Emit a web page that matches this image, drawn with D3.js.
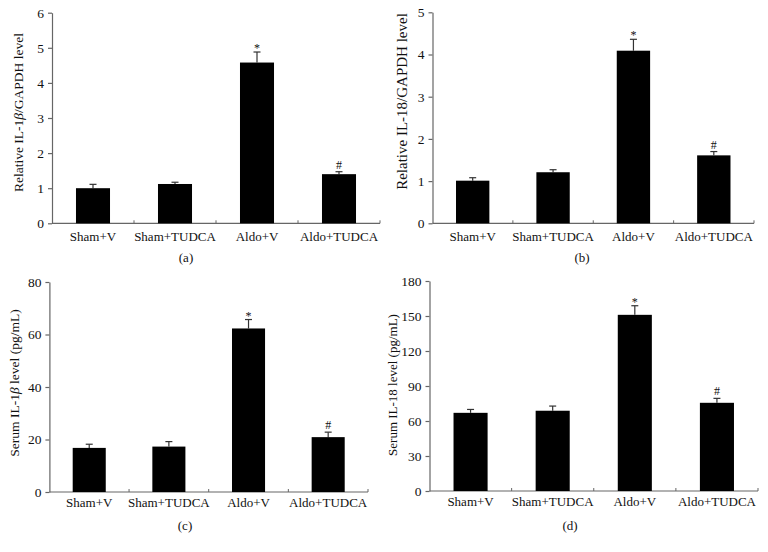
<!DOCTYPE html>
<html>
<head>
<meta charset="utf-8">
<script src="https://cdn.jsdelivr.net/npm/d3@7"></script>
<style>
  body { margin: 0; background: #fff; }
  svg text { font-family: "Liberation Serif", "DejaVu Serif", serif; fill: #111; }
</style>
</head>
<body>
<svg id="chart" width="768" height="552"></svg>
<script>
// groups shared by all four panels
var groups = ["Sham+V", "Sham+TUDCA", "Aldo+V", "Aldo+TUDCA"];

// (a) relative IL-1b / GAPDH
var valuesA = [1.0, 1.12, 4.58, 1.40];
var errA    = [0.11, 0.05, 0.30, 0.07];
var ticksA  = [0, 1, 2, 3, 4, 5, 6];

// (b) relative IL-18 / GAPDH
var valuesB = [1.01, 1.21, 4.09, 1.61];
var errB    = [0.07, 0.06, 0.27, 0.09];
var ticksB  = [0, 1, 2, 3, 4, 5];

// (c) serum IL-1b (pg/mL)
var valuesC = [16.8, 17.3, 62.3, 20.9];
var errC    = [1.4, 1.9, 3.4, 1.9];
var ticksC  = [0, 20, 40, 60, 80];

// (d) serum IL-18 (pg/mL)
var valuesD = [67, 68.8, 151, 75.6];
var errD    = [2.9, 4.0, 7.8, 3.8];
var ticksD  = [0, 30, 60, 90, 120, 150, 180];

// significance marks
var marks = ["", "", "*", "#"];

var svg = d3.select("#chart");

function panel(opt) {
  var g = svg.append("g");

  var x = d3.scaleBand().domain(groups).range([opt.x0, opt.x1]).padding(0);
  var y = d3.scaleLinear().domain([0, d3.max(opt.ticks)]).range([opt.y0, opt.y1]);
  var bw = x.bandwidth() * 0.415;

  // y axis
  var ya = g.append("g")
      .attr("transform", "translate(" + opt.x0 + ",0)")
      .call(d3.axisLeft(y).tickValues(opt.ticks).tickFormat(d3.format("d"))
        .tickSize(4).tickPadding(4).tickSizeOuter(0));
  ya.selectAll("path, line").attr("stroke", "#666").attr("stroke-width", 1.2);
  ya.selectAll("text").style("font-size", "13.5px").attr("fill", "#111")
      .style("font-family", '"Liberation Serif", serif');

  // x axis line with small upward ticks at band boundaries
  g.append("line")
      .attr("x1", opt.x0).attr("x2", opt.x1)
      .attr("y1", opt.y0).attr("y2", opt.y0)
      .attr("stroke", "#666").attr("stroke-width", 1.2);
  g.selectAll(".xt")
      .data(groups.slice(1).concat(["end"]))
      .enter().append("line")
      .attr("class", "xt")
      .attr("x1", function(d, i) { return opt.x0 + (i + 1) * x.step(); })
      .attr("x2", function(d, i) { return opt.x0 + (i + 1) * x.step(); })
      .attr("y1", opt.y0).attr("y2", opt.y0 - 3)
      .attr("stroke", "#666").attr("stroke-width", 1);

  g.selectAll(".xl")
      .data(groups)
      .enter().append("text")
      .attr("class", "xl")
      .attr("x", function(d) { return x(d) + x.bandwidth() / 2; })
      .attr("y", opt.y0 + opt.labGap)
      .attr("text-anchor", "middle")
      .style("font-size", "13px")
      .text(function(d) { return d; });

  // error bars
  var eg = g.selectAll(".err")
      .data(opt.values)
      .enter().append("g")
      .attr("class", "err");
  eg.append("line")
      .attr("x1", function(d, i) { return x(groups[i]) + x.bandwidth() / 2; })
      .attr("x2", function(d, i) { return x(groups[i]) + x.bandwidth() / 2; })
      .attr("y1", function(d) { return y(d); })
      .attr("y2", function(d, i) { return y(d + opt.err[i]); })
      .attr("stroke", "#333").attr("stroke-width", 1.2);
  eg.append("line")
      .attr("x1", function(d, i) { return x(groups[i]) + x.bandwidth() / 2 - 3.5; })
      .attr("x2", function(d, i) { return x(groups[i]) + x.bandwidth() / 2 + 3.5; })
      .attr("y1", function(d, i) { return y(d + opt.err[i]); })
      .attr("y2", function(d, i) { return y(d + opt.err[i]); })
      .attr("stroke", "#333").attr("stroke-width", 1.2);

  // bars
  g.selectAll(".bar")
      .data(opt.values)
      .enter().append("rect")
      .attr("class", "bar")
      .attr("x", function(d, i) { return x(groups[i]) + (x.bandwidth() - bw) / 2; })
      .attr("width", bw)
      .attr("y", function(d) { return y(d); })
      .attr("height", function(d) { return y(0) - y(d); })
      .attr("fill", "#000");

  // significance marks
  g.selectAll(".mk")
      .data(opt.values)
      .enter().append("text")
      .attr("class", "mk")
      .attr("x", function(d, i) { return x(groups[i]) + x.bandwidth() / 2; })
      .attr("y", function(d, i) { return y(d + opt.err[i]) - (marks[i] == "*" ? 0 : 3); })
      .attr("text-anchor", "middle")
      .style("font-size", "12px")
      .text(function(d, i) { return marks[i]; });

  // y title
  var yt = g.append("text")
      .attr("transform", "translate(" + opt.tx + "," + opt.ty + ") rotate(-90)")
      .attr("text-anchor", "middle")
      .attr("dy", "0.35em")
      .style("font-size", opt.tsize + "px");
  opt.title.forEach(function(p) {
    yt.append("tspan").style("font-style", p[1] ? "italic" : "normal").text(p[0]);
  });

  // panel letter
  g.append("text")
      .attr("x", opt.lx).attr("y", opt.ly)
      .attr("text-anchor", "middle")
      .style("font-size", "13px")
      .text(opt.letter);
}

panel({ x0: 52, x1: 380, y0: 223.3, y1: 12.7, ticks: ticksA, values: valuesA, err: errA,
  title: [["Relative IL-1", false], ["\u03b2", true], ["/GAPDH level", false]],
  tx: 18, ty: 112.5, tsize: 13.5, labGap: 18, letter: "(a)", lx: 186, ly: 262 });

panel({ x0: 432.5, x1: 754, y0: 223.3, y1: 12.3, ticks: ticksB, values: valuesB, err: errB,
  title: [["Relative IL-18/GAPDH level", false]],
  tx: 402, ty: 101.5, tsize: 15, labGap: 18, letter: "(b)", lx: 582, ly: 262 });

panel({ x0: 49.4, x1: 368, y0: 492, y1: 282, ticks: ticksC, values: valuesC, err: errC,
  title: [["Serum IL-1", false], ["\u03b2", true], [" level (pg/mL)", false]],
  tx: 14, ty: 383, tsize: 13.5, labGap: 15, letter: "(c)", lx: 185, ly: 530 });

panel({ x0: 429.5, x1: 758, y0: 491, y1: 281, ticks: ticksD, values: valuesD, err: errD,
  title: [["Serum IL-18 level (pg/mL)", false]],
  tx: 392, ty: 385, tsize: 13, labGap: 15, letter: "(d)", lx: 570, ly: 530 });
</script>
</body>
</html>
